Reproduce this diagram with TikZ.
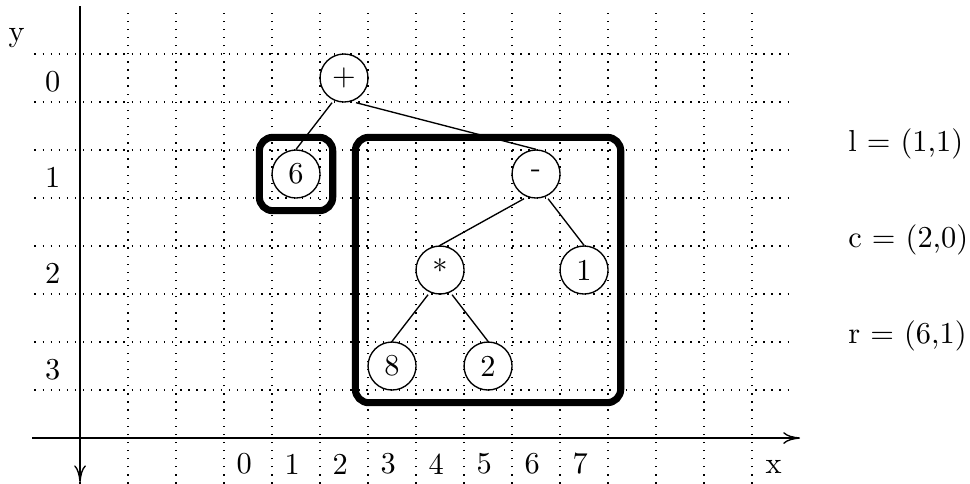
\documentclass[tikz,border=0pt]{standalone}
\usepackage{fontspec}
\setmainfont{lmroman10-regular.otf}
\usetikzlibrary{arrows.meta, fit}

\begin{document}
\begin{tikzpicture}[
    >={To[length=10pt, width=7pt]},
    font=\fontsize{18}{22}\selectfont,
    gridline/.style={line width=0.8pt, dash pattern=on 0.8pt off 4pt},
    axis/.style={->, line width=0.8pt},
    tnode/.style={draw, circle, line width=0.8pt, minimum size=1cm,
                  inner sep=0pt},
    edge/.style={line width=0.8pt},
    box/.style={draw, line width=4.2pt, rounded corners=8pt,
                inner sep=0.25cm},
    vallbl/.style={anchor=west, inner sep=0pt}
  ]
  \useasboundingbox (-1.667,-0.9375) rectangle (18.54,9.125);
  \draw[gridline] (-0.95,-0.95) grid (14.9,8.95);

  % axes
  \coordinate (xfrom) at (-1,0);
  \coordinate (xto) at (15,0);
  \coordinate (yfrom) at (0,9);
  \coordinate (yto) at (0,-0.92);
  \draw[axis] (xfrom) -- (xto);
  \draw[axis] (yfrom) -- (yto);
  \node (xlbl) at (14.45,-0.6) {x};
  \node (ylbl) at (-1.32,8.34) {y};

  \foreach \r in {0,...,3}
    \node (row\r) at (-0.57,7.43-2*\r) {\r};
  \foreach \c in {0,...,7}
    \node (col\c) at (3.42+\c,-0.54) {\c};

  % tree
  \node[tnode] (plus)  at (5.5,7.5)  {+};
  \node[tnode] (six)   at (4.5,5.5)  {6};
  \node[tnode] (minus) at (9.5,5.5)  {-};
  \node[tnode] (star)  at (7.5,3.5)  {*};
  \node[tnode] (one)   at (10.5,3.5) {1};
  \node[tnode] (eight) at (6.5,1.5)  {8};
  \node[tnode] (two)   at (8.5,1.5)  {2};

  \draw[edge] ([xshift=-0.25cm]plus.south) -- (six.north);
  \draw[edge] ([xshift=0.25cm]plus.south) -- (minus.north);
  \draw[edge] ([xshift=-0.25cm]minus.south) -- (star.north);
  \draw[edge] ([xshift=0.25cm]minus.south) -- (one.north);
  \draw[edge] ([xshift=-0.25cm]star.south) -- (eight.north);
  \draw[edge] ([xshift=0.25cm]star.south) -- (two.north);

  % subtrees
  \node[box, fit=(six)] (lbox) {};
  \node[box, fit=(minus)(star)(one)(eight)(two)] (rbox) {};

  \node[vallbl] (lval) at (16,6.12) {l = (1,1)};
  \node[vallbl] (cval) at (16,4.12) {c = (2,0)};
  \node[vallbl] (rval) at (16,2.12) {r = (6,1)};
\end{tikzpicture}
\end{document}
